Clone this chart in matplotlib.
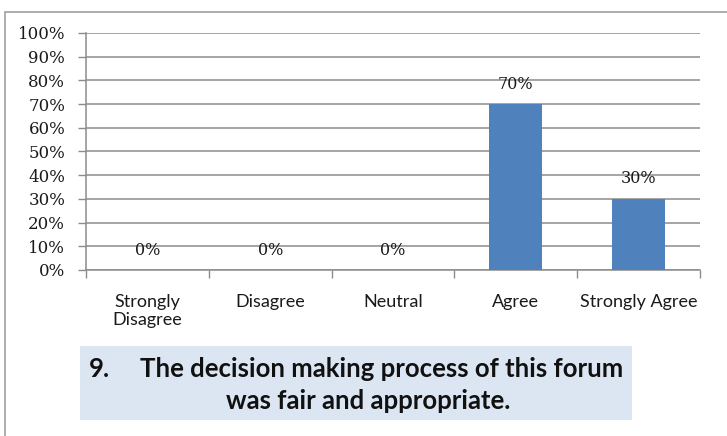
import matplotlib
matplotlib.use("Agg")
import matplotlib.pyplot as plt
from matplotlib.patches import Rectangle
from matplotlib.ticker import FixedLocator, NullFormatter

categories = ["Strongly\nDisagree", "Disagree", "Neutral", "Agree", "Strongly Agree"]
values = [0, 0, 0, 70, 30]
y_ticks = [0, 10, 20, 30, 40, 50, 60, 70, 80, 90, 100]
title_number = "9."
title_line1 = "The decision making process of this forum"
title_line2 = "was fair and appropriate."

W, H = 727, 436
fig = plt.figure(figsize=(W / 100, H / 100), dpi=100)
fig.patch.set_facecolor("white")

# outer frame (only top and left edges fall inside the canvas)
fig.patches.append(Rectangle((5 / W, -0.1), 1.2, (436 - 12) / H + 0.1,
                             transform=fig.transFigure, fill=False,
                             edgecolor="#a0a0a0", linewidth=1.2))

ax = fig.add_axes([86 / W, (H - 270) / H, (700 - 86) / W, (270 - 33) / H])
n = len(categories)
x = list(range(n))
bars = ax.bar(x, values, width=0.43, color="#4F81BD", zorder=3)

ax.set_xlim(-0.5, n - 0.5)
ax.set_ylim(0, 100)
ax.set_yticks(y_ticks)
ax.set_yticklabels([f"{t}%" for t in y_ticks], fontfamily="DejaVu Serif",
                   fontsize=12, color="#1a1a1a")
ax.yaxis.grid(True, color="#8c8c8c", linewidth=1.1, zorder=0)
ax.tick_params(axis="y", length=6, width=1, color="#8c8c8c", pad=9)

# category labels centred, ticks at category boundaries
ax.set_xticks(x)
ax.set_xticklabels(categories, fontfamily="Lato", fontsize=13,
                   color="#1a1a1a", linespacing=1.2)
ax.tick_params(axis="x", which="major", length=0, pad=17)
ax.xaxis.set_minor_locator(FixedLocator([i + 0.5 for i in range(-1, n)]))
ax.xaxis.set_minor_formatter(NullFormatter())
ax.tick_params(axis="x", which="minor", length=6, width=1, color="#8c8c8c")

for s in ["top", "right"]:
    ax.spines[s].set_visible(False)
for s in ["left", "bottom"]:
    ax.spines[s].set_color("#8c8c8c")
    ax.spines[s].set_linewidth(1.1)

for xi, v in zip(x, values):
    ax.annotate(f"{v}%", (xi, v), xytext=(0, 20), textcoords="offset pixels",
                ha="center", va="center", fontfamily="DejaVu Serif",
                fontsize=11.5, color="#1a1a1a")

# caption box
fig.patches.append(Rectangle((80 / W, (H - 420) / H), (632 - 80) / W, 74 / H,
                             transform=fig.transFigure, facecolor="#DCE6F2",
                             edgecolor="none"))
fig.text(89 / W, (H - 369) / H, title_number, fontfamily="Lato",
         fontweight="bold", fontsize=18.5, va="center", ha="left", color="#111111")
fig.text(382 / W, (H - 369) / H, title_line1, fontfamily="Lato",
         fontweight="bold", fontsize=18.5, va="center", ha="center", color="#111111")
fig.text(368 / W, (H - 401) / H, title_line2, fontfamily="Lato",
         fontweight="bold", fontsize=18.5, va="center", ha="center", color="#111111")

fig.savefig("out.png", dpi=100)
